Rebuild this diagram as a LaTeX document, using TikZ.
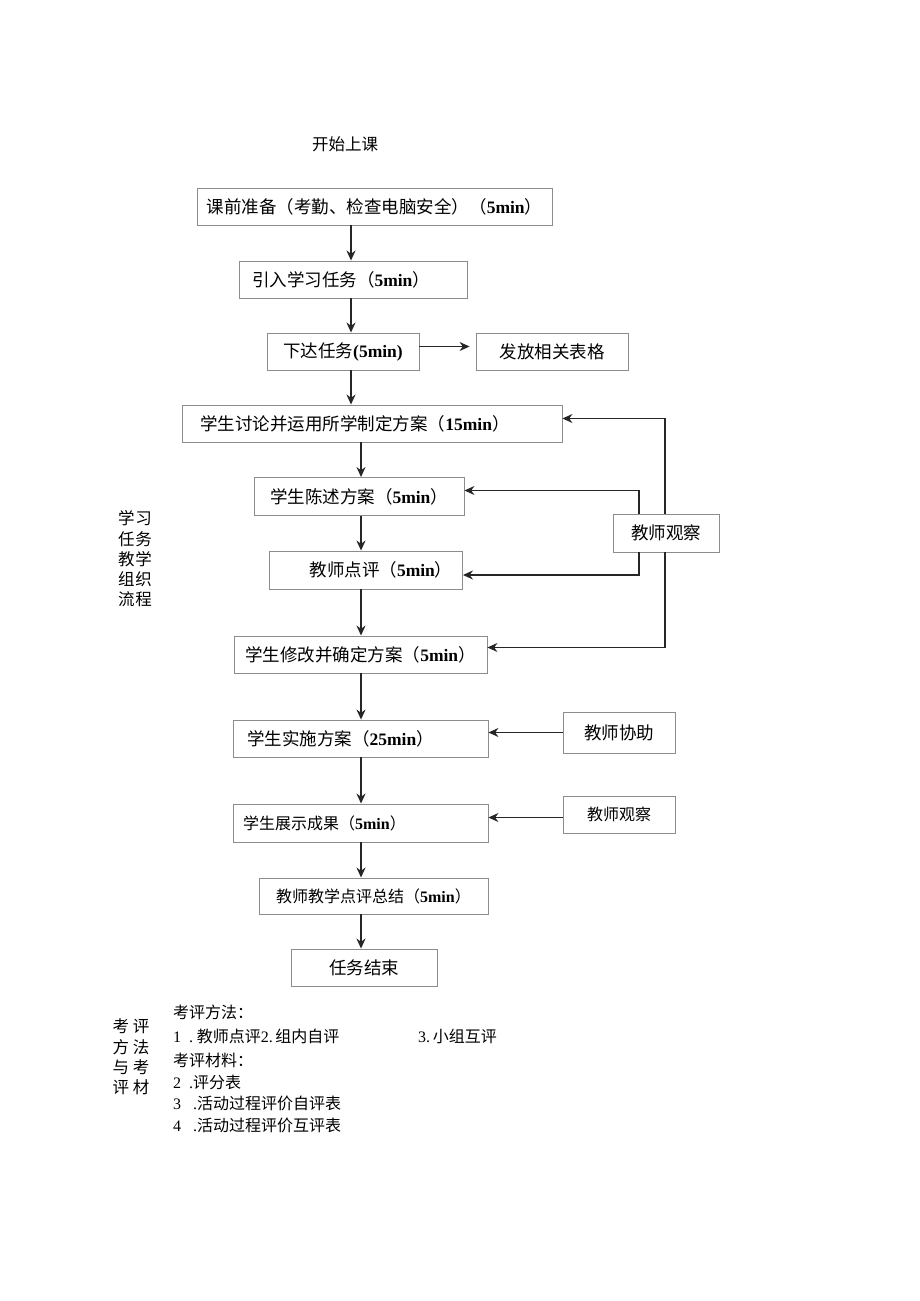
\documentclass[tikz,border=0pt]{standalone}
\usepackage{fontspec}
\setmainfont{Liberation Serif}
\newfontfamily\cjk{Noto Sans CJK SC}
\usetikzlibrary{arrows.meta}
\usetikzlibrary{positioning}
\newcommand\lat[1]{{\rmfamily\bfseries #1}}
\newcommand\lr[1]{{\rmfamily #1}}

\begin{document}
\begin{tikzpicture}
		[x=1pt,y=-1pt,
		box/.style={draw=black!45,line width=0.9pt,minimum height=37pt,inner sep=0pt,font=\cjk\fontsize{17.5}{19}\selectfont},
		small/.style={font=\cjk\fontsize{16}{18}\selectfont},
		flow/.style={-{Stealth[length=10pt,width=9pt]},line width=1.4pt,draw=black!85},
		note/.style={anchor=west,inner sep=0pt,font=\cjk\fontsize{16}{18}\selectfont},
		side/.style={align=center,inner sep=0pt,font=\cjk\fontsize{16.5}{20.3}\selectfont}]
		\useasboundingbox (0,0) rectangle (920,1301);
		
		\node[font=\cjk\fontsize{16.5}{18}\selectfont] (start) at (345,144) {开始上课};
		
		% main flow
		\node[box,minimum width=355] (prep) at (374.5,206.5) {课前准备（考勤、检查电脑安全）（\lat{5min}）};
		\node[box,minimum width=228] (intro) at (353,279.5) {引入学习任务（\lat{5min}）\hspace{24pt}\mbox{}};
		\node[box,minimum width=152] (assign) at (343,351.5) {下达任务\lat{(5min)}};
		\node[box,minimum width=152] (forms) at (552,351.5) {发放相关表格};
		\node[box,minimum width=380] (discuss) at (372,423.5) {学生讨论并运用所学制定方案（\lat{15min}）\hspace{34pt}\mbox{}};
		\node[box,minimum width=210,minimum height=38] (state) at (359,496.5) {学生陈述方案（\lat{5min}）};
		\node[box,minimum width=193,minimum height=38] (review) at (366,570) {\hspace{30pt}教师点评（\lat{5min}）};
		\node[box,minimum width=253] (revise) at (360.5,654.5) {学生修改并确定方案（\lat{5min}）};
		\node[box,minimum width=106,minimum height=38] (obs) at (666,533) {教师观察};
		\node[box,minimum width=255] (do) at (360.5,738.5) {学生实施方案（\lat{25min}）\hspace{40pt}\mbox{}};
		\node[box,minimum width=112,minimum height=41] (help) at (619,732.5) {教师协助};
		\node[box,small,minimum width=255,minimum height=38] (show) at (360.5,823) {学生展示成果（\lat{5min}）\hspace{72pt}\mbox{}};
		\node[box,small,minimum width=112] (obs2) at (619,814.5) {教师观察};
		\node[box,small,minimum width=229,minimum height=36] (sum) at (373.5,896) {教师教学点评总结（\lat{5min}）};
		\node[box,minimum width=146] (end) at (364,967.5) {任务结束};
		
		\coordinate (axA) at (351,0);
		\coordinate (axB) at (361,0);
		\coordinate (outer) at (665,0);
		\coordinate (inner) at (639,0);
		
		\foreach \from/\to in 
		{prep/intro, intro/assign, assign/discuss}
		\draw[flow] (axA |- \from.south) -- (axA |- \to.north);
		\foreach \from/\to in 
		{discuss/state, state/review, review/revise, revise/do, do/show, show/sum, sum/end}
		\draw[flow] (axB |- \from.south) -- (axB |- \to.north);
		
		\draw[flow,shorten >=6pt] ([yshift=5]assign.east) -- ([yshift=5]assign.east -| forms.west);
		
		% feedback from the teacher
		\draw[flow] (outer |- obs.north) |- ([yshift=5]discuss.east);
		\draw[flow] (outer |- obs.south) |- ([yshift=7]revise.east);
		\draw[flow] (inner |- obs.north) |- ([yshift=6]state.east);
		\draw[flow] (inner |- obs.south) |- ([yshift=-5]review.east);
		\draw[flow] (help.west) -- (help.west -| do.east);
		\draw[flow] ([yshift=-3]obs2.west) -- ([yshift=-3]obs2.west -| show.east);
		
		% side labels
		\node[side] (flowlbl) at (135,559) {学\hspace{1pt}习\\任\hspace{1pt}务\\教\hspace{1pt}学\\组\hspace{1pt}织\\流\hspace{1pt}程};
		\node[side] (evallbl) at (131,1057) {考\hspace{4pt}评\\方\hspace{4pt}法\\与\hspace{4pt}考\\评\hspace{4pt}材};
		
		% evaluation notes
		\node[note] (m0) at (173,1012) {考评方法：};
		\node[note] (m1) at (173,1036) {\lr{1\ \ .}\ 教师点评\lr{2.}\,组内自评};
		\node[note] (m2) at (418,1036) {\lr{3.}\,小组互评};
		\node[note] (t0) at (173,1060) {考评材料：};
		\node[note] (t1) at (173,1082) {\lr{2\ \ .}评分表};
		\node[note] (t2) at (173,1103) {\lr{3\ \ \ .}活动过程评价自评表};
		\node[note] (t3) at (173,1125) {\lr{4\ \ \ .}活动过程评价互评表};
		\end{tikzpicture}
\end{document}
